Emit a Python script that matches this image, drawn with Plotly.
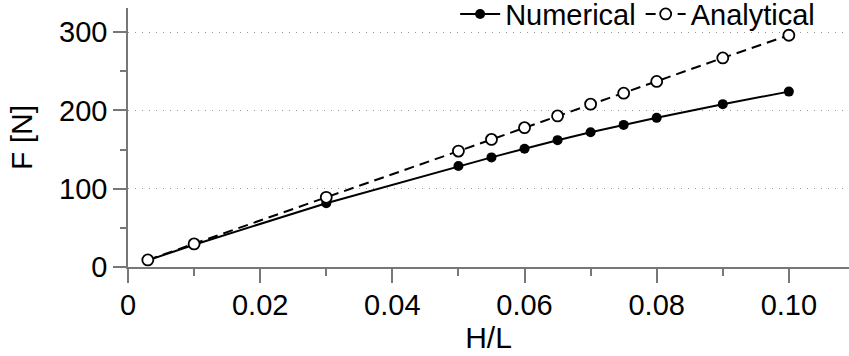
import plotly.graph_objects as go

# Data
h_over_l = [0.003, 0.01, 0.03, 0.05, 0.055, 0.06, 0.065, 0.07, 0.075, 0.08, 0.09, 0.10]
numerical = [8.5, 28.5, 81.5, 129, 140, 151, 162, 172, 181.5, 190.5, 208, 224]
analytical = [9, 29.5, 89, 148, 163, 178, 193, 208, 222, 237, 267, 296]

x_tickvals = [0, 0.02, 0.04, 0.06, 0.08, 0.10]
x_ticktext = ["0", "0.02", "0.04", "0.06", "0.08", "0.10"]
y_tickvals = [0, 100, 200, 300]
y_ticktext = ["0", "100", "200", "300"]

FONT = "Liberation Sans, Arial, Helvetica, sans-serif"

fig = go.Figure()
fig.add_trace(go.Scatter(
    x=h_over_l, y=numerical, name="Numerical", mode="lines+markers",
    line=dict(color="black", width=2),
    marker=dict(symbol="circle", size=10, color="black", line=dict(color="black", width=0)),
))
fig.add_trace(go.Scatter(
    x=h_over_l, y=analytical, name="Analytical", mode="lines+markers",
    line=dict(color="black", width=2, dash="10px,6px"),
    marker=dict(symbol="circle", size=11, color="white", line=dict(color="black", width=1.8)),
))

fig.update_layout(
    width=849, height=356,
    margin=dict(l=128, r=0, t=8, b=89, autoexpand=False),
    plot_bgcolor="white", paper_bgcolor="white",
    font=dict(family=FONT, color="black", size=29),
    showlegend=True,
    legend=dict(
        orientation="h", xref="container", yref="paper",
        x=0.966, xanchor="right", y=1.075, yanchor="top",
        bgcolor="rgba(0,0,0,0)", font=dict(size=29), itemwidth=40,
        traceorder="normal",
    ),
)

fig.update_xaxes(
    range=[0, 0.1091],
    tickvals=x_tickvals, ticktext=x_ticktext,
    ticks="outside", ticklen=14, tickwidth=1.5, tickcolor="#777",
    minor=dict(dtick=0.01, tick0=0, ticks="outside", ticklen=7, tickwidth=1.5, tickcolor="#777", showgrid=False),
    showline=True, linecolor="#777", linewidth=1.5,
    showgrid=False, zeroline=False,
    tickfont=dict(size=29, family=FONT),
    ticklabelstandoff=-3,
    title=dict(text="H/L", font=dict(size=30, family=FONT), standoff=1),
)
fig.update_yaxes(
    range=[0, 330.8],
    tickvals=y_tickvals, ticktext=y_ticktext,
    ticks="outside", ticklen=13, tickwidth=1.5, tickcolor="#777",
    minor=dict(dtick=50, tick0=0, ticks="outside", ticklen=6, tickwidth=1.5, tickcolor="#777", showgrid=False),
    showline=True, linecolor="#777", linewidth=1.5,
    showgrid=True, gridcolor="#999", gridwidth=1, griddash="1px,6px",
    zeroline=False,
    tickfont=dict(size=29, family=FONT),
    ticklabelstandoff=0,
    title=dict(text="F [N]", font=dict(size=30, family=FONT), standoff=18),
)

fig.write_html("out.html")
